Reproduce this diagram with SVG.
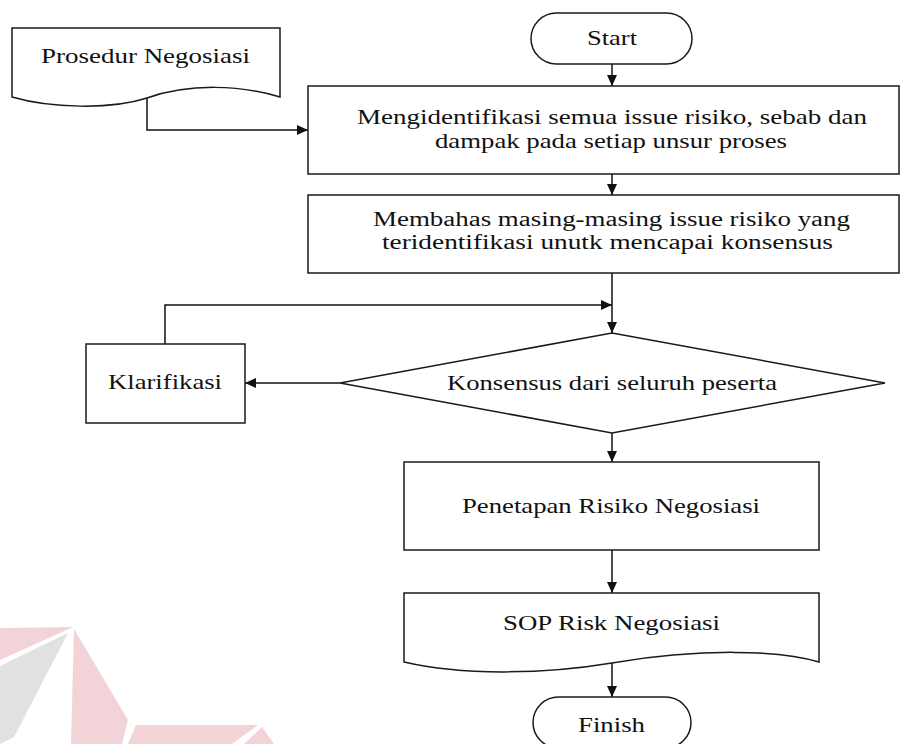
<svg xmlns="http://www.w3.org/2000/svg" width="901" height="744" viewBox="0 0 901 744">
  <style>
    .shape { fill: #ffffff; stroke: #1a1a1a; stroke-width: 1.5; }
    .wire { fill: none; stroke: #111111; stroke-width: 1.5; }
    .label { font-family: "Liberation Serif", "Times New Roman", serif; font-size: 21px; fill: #111111; }
    .tight { font-size: 20px; }
    .wm-red { fill: #f2d3d8; }
    .wm-grey { fill: #e1e1e1; }
  </style>
  <defs>
    <marker id="arrow" markerUnits="userSpaceOnUse" markerWidth="12" markerHeight="10" refX="11" refY="5" orient="auto">
      <path d="M0,0 L11,5 L0,10 Z" fill="#111111"/>
    </marker>
  </defs>

  <!-- faint logo watermark, lower left -->
  <g id="watermark">
    <polygon class="wm-red" points="0,628 73,627 0,660"/>
    <polygon class="wm-grey" points="0,666 68,633 14,737 0,744"/>
    <polygon class="wm-red" points="74,629 128,720 122,744 71,744"/>
    <polygon class="wm-red" points="136,725 258,725 232,744 128,744"/>
    <polygon class="wm-red" points="262,727 274,744 244,744"/>
  </g>

  <!-- connectors -->
  <g id="connectors">
    <path class="wire" d="M612,64 V86" marker-end="url(#arrow)"/>
    <path class="wire" d="M612,174 V195" marker-end="url(#arrow)"/>
    <path class="wire" d="M612,273 V333" marker-end="url(#arrow)"/>
    <path class="wire" d="M147,98 V130 H308" marker-end="url(#arrow)"/>
    <path class="wire" d="M165,344 V305 H612" marker-end="url(#arrow)"/>
    <path class="wire" d="M340,383 H245" marker-end="url(#arrow)"/>
    <path class="wire" d="M612,433 V462" marker-end="url(#arrow)"/>
    <path class="wire" d="M612,550 V593" marker-end="url(#arrow)"/>
    <path class="wire" d="M612,663 V697" marker-end="url(#arrow)"/>
  </g>

  <g id="prosedur">
    <path class="shape" d="M12,28 H280 V97 C240,85 190,83 147,98 C110,110 50,108 12,97 Z"/>
    <text class="label" x="41" y="63" textLength="209" lengthAdjust="spacingAndGlyphs">Prosedur Negosiasi</text>
  </g>

  <g id="start">
    <rect class="shape" x="531" y="13" width="161" height="51" rx="25.5" ry="25.5"/>
    <text class="label" x="587" y="45" textLength="50" lengthAdjust="spacingAndGlyphs">Start</text>
  </g>

  <g id="identifikasi">
    <rect class="shape" x="308" y="86" width="591" height="88"/>
    <text class="label" x="357" y="124" textLength="510" lengthAdjust="spacingAndGlyphs">Mengidentifikasi semua issue risiko, sebab dan</text>
    <text class="label" x="435" y="148" textLength="352" lengthAdjust="spacingAndGlyphs">dampak pada setiap unsur proses</text>
  </g>

  <g id="membahas">
    <rect class="shape" x="308" y="195" width="591" height="78"/>
    <text class="label tight" x="373" y="226" textLength="477" lengthAdjust="spacingAndGlyphs">Membahas masing-masing issue risiko yang</text>
    <text class="label tight" x="382" y="249" textLength="451" lengthAdjust="spacingAndGlyphs">teridentifikasi unutk mencapai konsensus</text>
  </g>

  <g id="konsensus">
    <polygon class="shape" points="612,333 885,383 612,433 340,383"/>
    <text class="label" x="447" y="390" textLength="330" lengthAdjust="spacingAndGlyphs">Konsensus dari seluruh peserta</text>
  </g>

  <g id="klarifikasi">
    <rect class="shape" x="86" y="344" width="159" height="79"/>
    <text class="label" x="108" y="389" textLength="114" lengthAdjust="spacingAndGlyphs">Klarifikasi</text>
  </g>

  <g id="penetapan">
    <rect class="shape" x="404" y="462" width="415" height="88"/>
    <text class="label" x="462" y="513" textLength="298" lengthAdjust="spacingAndGlyphs">Penetapan Risiko Negosiasi</text>
  </g>

  <g id="sop">
    <path class="shape" d="M404,593 H819 V662 C780,650 700,648 612,663 C540,675 460,675 404,662 Z"/>
    <text class="label" x="503" y="630" textLength="217" lengthAdjust="spacingAndGlyphs">SOP Risk Negosiasi</text>
  </g>

  <g id="finish">
    <rect class="shape" x="533" y="697" width="158" height="51" rx="25.5" ry="25.5"/>
    <text class="label" x="578" y="732" textLength="67" lengthAdjust="spacingAndGlyphs">Finish</text>
  </g>
</svg>
